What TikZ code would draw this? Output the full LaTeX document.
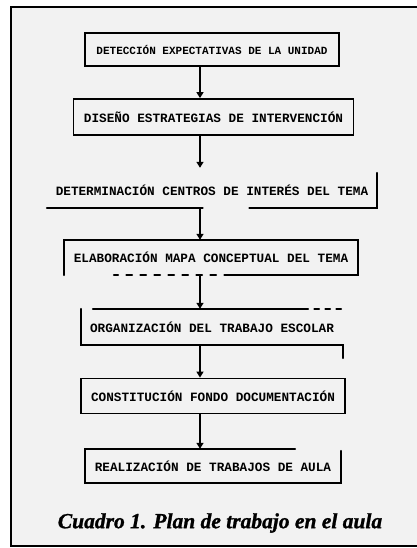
\documentclass[tikz,border=0pt]{standalone}
\usepackage{fontspec}
\setmainfont{Liberation Serif}
\newfontfamily\capfont{Liberation Serif Bold Italic}[FakeBold=1.2]
\newfontfamily\boxfont{Liberation Mono}
\usetikzlibrary{arrows.meta}
\definecolor{paper}{HTML}{F2F2F2}
\tikzset{
  boxtext/.style={font=\boxfont\bfseries\fontsize{12.7}{14}\selectfont},
  stepbox/.style={draw=black, line width=1.8pt, inner sep=0pt, boxtext},
  openbox/.style={draw=none, inner sep=0pt, boxtext},
  edgeline/.style={line width=1.8pt, line cap=round},
  flow/.style={line width=1.4pt, -{Triangle[length=6pt,width=7pt]}},
  caption/.style={font=\capfont\fontsize{21.5}{24}\selectfont},
}
\begin{document}
\begin{tikzpicture}[x=1pt,y=-1pt]
\useasboundingbox (0,0) rectangle (417,548);
% outer frame
\fill[paper] (11,7) rectangle (417,546);
\draw[line width=1.6pt] (417,7) -- (11,7) -- (11,546) -- (417,546);
\coordinate (ax) at (200,0);

% boxes
\node[stepbox, minimum width=254pt, minimum height=33pt,
      font=\boxfont\bfseries\fontsize{11}{13}\selectfont] (b1) at (212,49.5) {DETECCIÓN EXPECTATIVAS DE LA UNIDAD};
\node[stepbox, minimum width=280pt, minimum height=36pt] (b2) at (213.5,117) {DISEÑO ESTRATEGIAS DE INTERVENCIÓN};
\node[openbox, minimum width=330pt, minimum height=35pt] (b3) at (212,190.5) {DETERMINACIÓN CENTROS DE INTERÉS DEL TEMA};
\node[openbox, minimum width=294pt, minimum height=35pt] (b4) at (211,257.5) {ELABORACIÓN MAPA CONCEPTUAL DEL TEMA};
\node[openbox, minimum width=262pt, minimum height=36pt] (b5) at (212,327) {ORGANIZACIÓN DEL TRABAJO ESCOLAR};
\node[stepbox, minimum width=264pt, minimum height=35pt] (b6) at (213,396) {CONSTITUCIÓN FONDO DOCUMENTACIÓN};
\node[openbox, minimum width=256pt, minimum height=34pt] (b7) at (213,466) {REALIZACIÓN DE TRABAJOS DE AULA};

% partial outlines (as printed)
\draw[edgeline] (b3.south west) -- ++(156,0);
\draw[edgeline] ([xshift=-128pt]b3.south east) -- (b3.south east) -- (b3.north east);
\draw[edgeline] (b4.south west) -- (b4.north west) -- (b4.north east) -- (b4.south east) -- ([xshift=-128pt]b4.south east);
\draw[edgeline, dash pattern=on 6pt off 8pt] ([xshift=-128pt]b4.south east) -- ([xshift=50pt]b4.south west);
\draw[edgeline] ([xshift=12pt]b5.north west) -- ([xshift=-40pt]b5.north east);
\draw[edgeline, dash pattern=on 5pt off 6pt] ([xshift=-40pt]b5.north east) -- (b5.north east);
\draw[edgeline] (b5.north west) -- (b5.south west) -- (b5.south east) -- ([yshift=-13pt]b5.south east);
\draw[edgeline] ([xshift=-46pt]b7.north east) -- (b7.north west) -- (b7.south west) -- (b7.south east) -- ([yshift=-2pt]b7.north east);

% connectors
\draw[flow] (b1.south -| ax) -- (b2.north -| ax);
\draw[flow, shorten >=5pt] (b2.south -| ax) -- (b3.north -| ax);
\draw[flow] (b3.south -| ax) -- (b4.north -| ax);
\draw[flow] (b4.south -| ax) -- (b5.north -| ax);
\draw[flow] (b5.south -| ax) -- (b6.north -| ax);
\draw[flow] (b6.south -| ax) -- (b7.north -| ax);

% caption
\node[caption] (cap) at (220,523) {Cuadro 1. Plan de trabajo en el aula};
\end{tikzpicture}
\end{document}
